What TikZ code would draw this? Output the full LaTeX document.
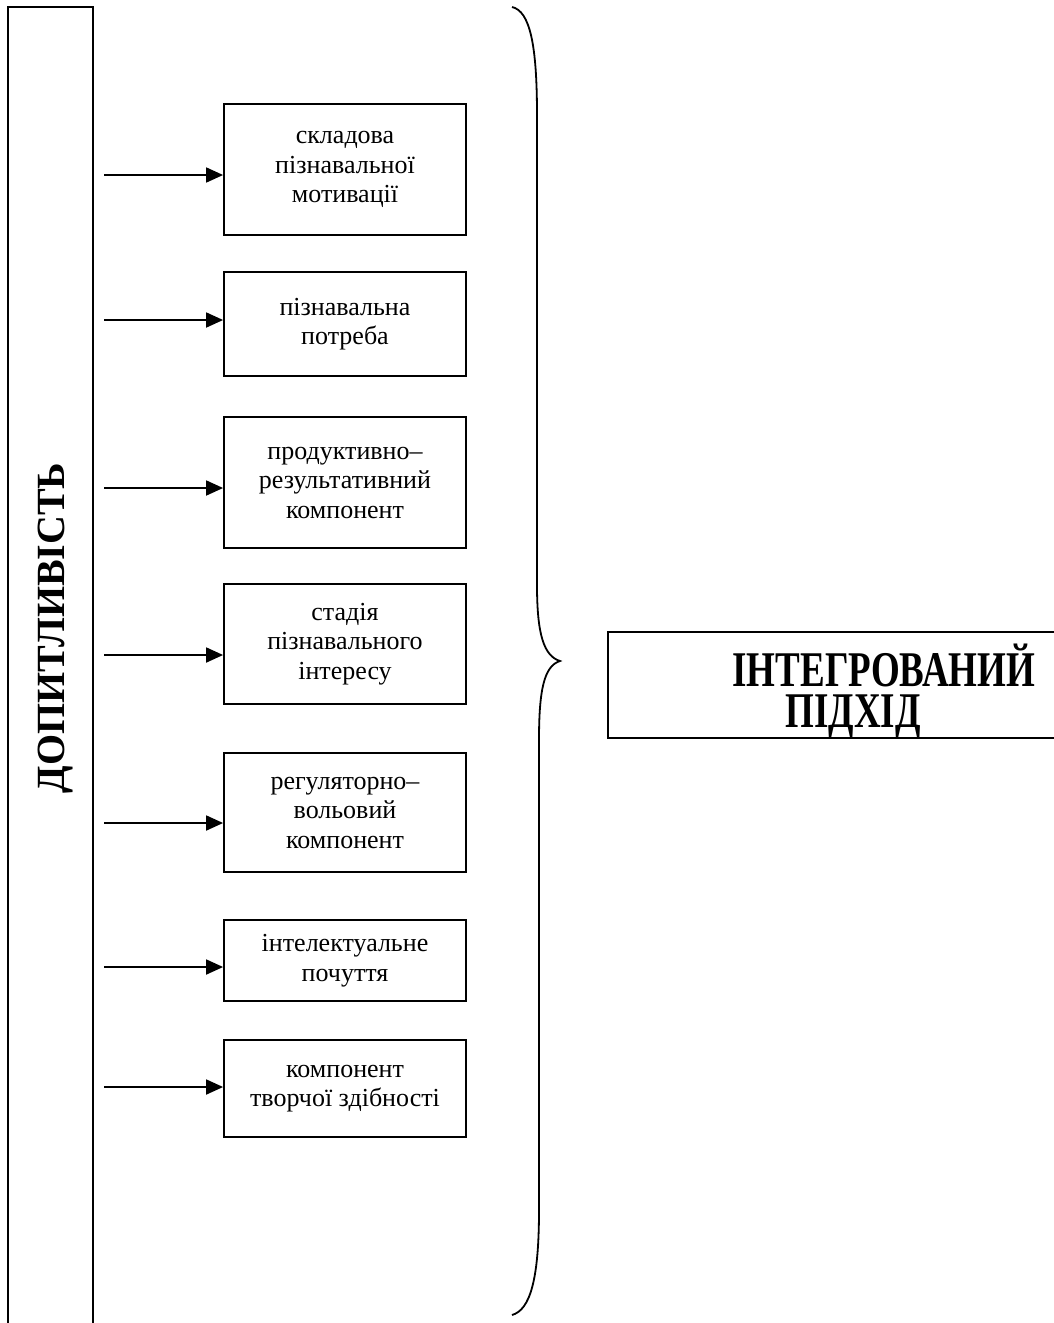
\documentclass[tikz,border=0pt]{standalone}
\usepackage{fontspec}
\setmainfont{Liberation Serif}
\usetikzlibrary{arrows.meta,positioning}

\tikzset{
  part/.style={draw, line width=1.8pt, minimum width=242pt, inner sep=0pt, align=center,
    font=\fontsize{26}{29.5}\selectfont},
  feed/.style={line width=1.8pt, -{Triangle[length=17pt,width=15pt]}},
  frame/.style={line width=1.8pt}
}

\begin{document}
\begin{tikzpicture}[x=1pt,y=-1pt]
\useasboundingbox (0,0) rectangle (1054,1323);

\draw[frame] (8,1340) -- (8,7) -- (93,7) -- (93,1340);
\node[rotate=90, anchor=base, font=\fontsize{40}{40}\selectfont\bfseries] (dop) at (64,628) {ДОПИТЛИВІСТЬ};

\begin{scope}
\def\parts{1/169.5/131/175/{складова\\пізнавальної\\мотивації},
  2/324/104/320/{пізнавальна\\потреба},
  3/482.5/131/488/{продуктивно–\\результативний\\компонент},
  4/644/120/655/{стадія\\пізнавального\\інтересу},
  5/812.5/119/823/{регуляторно–\\вольовий\\компонент},
  6/960.5/81/967/{інтелектуальне\\почуття},
  7/1088.5/97/1087/{компонент\\творчої здібності}}
\foreach \i / \cy / \h / \ay / \element in \parts {
  \node[part, minimum height=\h pt] (p\i) at (345,\cy) {\element};
  \coordinate (s\i) at (104,\ay);
  \draw[feed] (s\i) -- (s\i -| p\i.west);
}
\end{scope}

\draw[frame] (512,7) .. controls (530,11) and (537,45) .. (537,115) -- (537,585)
  .. controls (537,635) and (544,656) .. (560,661)
  .. controls (544,666) and (539,690) .. (539,740) -- (539,1210)
  .. controls (539,1280) and (530,1310) .. (512,1315);

\draw[frame] (1070,632) -- (608,632) -- (608,738) -- (1070,738);
\node[anchor=west, align=left, yscale=1.35, transform shape,
  font=\fontsize{37}{30.8}\selectfont\bfseries] (integ) at (729,691) {ІНТЕГРОВАНИЙ\\\hspace*{53pt}ПІДХІД};

\end{tikzpicture}
\end{document}
